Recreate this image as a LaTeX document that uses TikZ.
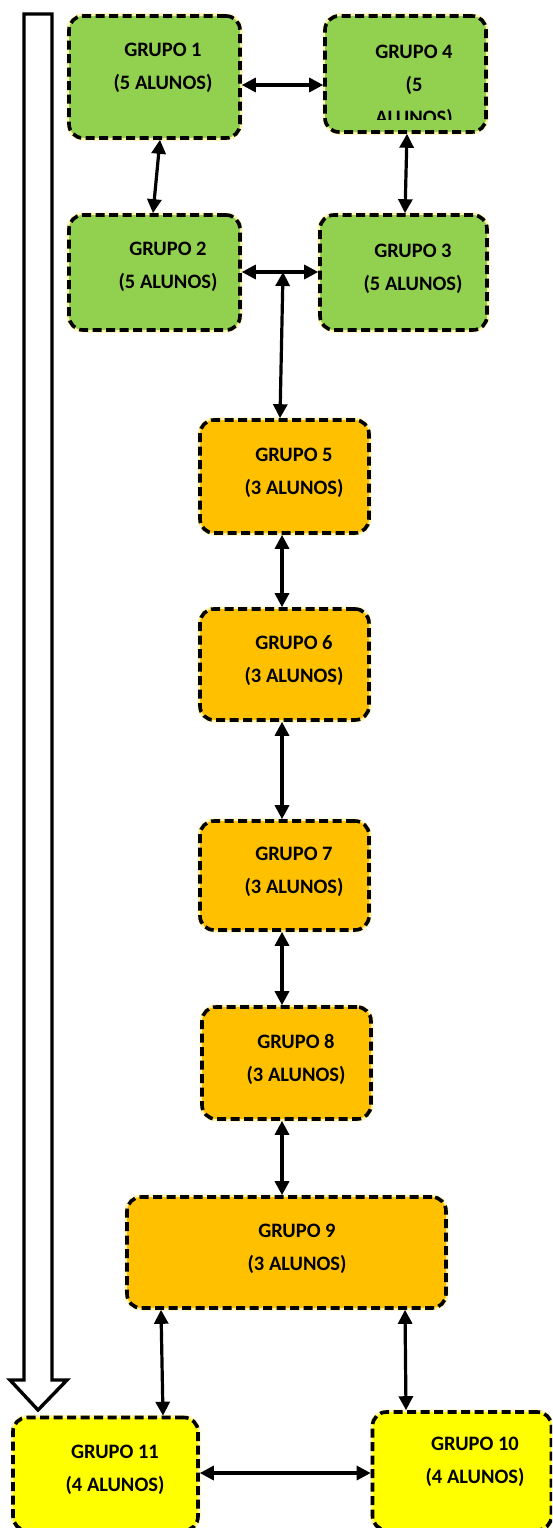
\documentclass[tikz,border=0pt]{standalone}
\usepackage{fontspec}
\setmainfont{Carlito}
\usetikzlibrary{arrows.meta,calc}
\definecolor{gr}{HTML}{92D050}
\definecolor{og}{HTML}{FFC000}
\definecolor{yl}{HTML}{FFFF00}
\definecolor{halo}{HTML}{FFF4B0}
\tikzset{
  box/.style={draw=black, line width=3.6pt, dash pattern=on 9pt off 4.5pt,
    rounded corners=14pt, inner sep=0pt, outer sep=1.8pt,
    preaction={draw=halo, line width=5pt, solid}},
  lbl/.style={font=\bfseries\fontsize{20.5}{33}\selectfont, align=center, inner sep=0pt},
  conn/.style={line width=3.2pt, {Triangle[length=14pt,width=14pt]}-{Triangle[length=14pt,width=14pt]}},
  bigarrow/.style={draw=black, line width=3.4pt, fill=white, line join=miter}
}
\begin{document}
\begin{tikzpicture}[x=1pt,y=-1pt]
\useasboundingbox (0,0) rectangle (552,1528);
\clip (0,0) rectangle (552,1528);
% big hollow arrow
\draw[bigarrow] (24,14) -- (52,14) -- (52,1380) -- (67,1380) -- (38,1410) -- (10,1380) -- (24,1380) -- cycle;
% boxes
\node[box, fill=gr, minimum width=171pt, minimum height=122pt] (g1) at (154.5,77) {};
\node[box, fill=gr, minimum width=161pt, minimum height=116pt] (g4) at (405.5,74) {};
\node[box, fill=gr, minimum width=171pt, minimum height=115pt] (g2) at (154.5,272.5) {};
\node[box, fill=gr, minimum width=167pt, minimum height=115pt] (g3) at (403.5,272.5) {};
\node[box, fill=og, minimum width=169pt, minimum height=113pt] (g5) at (284.5,476.5) {};
\node[box, fill=og, minimum width=169pt, minimum height=111pt] (g6) at (284.5,664.5) {};
\node[box, fill=og, minimum width=169pt, minimum height=109pt] (g7) at (284.5,875.5) {};
\node[box, fill=og, minimum width=169pt, minimum height=112pt] (g8) at (286.5,1063) {};
\node[box, fill=og, minimum width=319pt, minimum height=111pt] (g9) at (286.5,1252.5) {};
\node[box, fill=yl, minimum width=185pt, minimum height=113pt] (g11) at (105.5,1474) {};
\node[box, fill=yl, minimum width=179pt, minimum height=118pt] (g10) at (462,1471) {};
% labels
\node[lbl] (t1) at (163,68) {GRUPO 1\\(5 ALUNOS)};
\begin{scope}
\clip (330,20) rectangle (480,119);
\node[lbl] (t4) at (414,86) {GRUPO 4\\(5\\ALUNOS)};
\end{scope}
\node[lbl] (t2) at (168,266.5) {GRUPO 2\\(5 ALUNOS)};
\node[lbl] (t3) at (413,268.5) {GRUPO 3\\(5 ALUNOS)};
\node[lbl] (t5) at (294,472.5) {GRUPO 5\\(3 ALUNOS)};
\node[lbl] (t6) at (294,661) {GRUPO 6\\(3 ALUNOS)};
\node[lbl] (t7) at (294,871.5) {GRUPO 7\\(3 ALUNOS)};
\node[lbl] (t8) at (296,1059) {GRUPO 8\\(3 ALUNOS)};
\node[lbl] (t9) at (297,1248.5) {GRUPO 9\\(3 ALUNOS)};
\node[lbl] (t11) at (115,1469.5) {GRUPO 11\\(4 ALUNOS)};
\node[lbl] (t10) at (475,1462) {GRUPO 10\\(4 ALUNOS)};
% connectors
\draw[conn] (g1.east |- 0,85) -- (g4.west |- 0,85);
\draw[conn] (g1.south -| 160,0) -- (g2.north -| 153,0);
\draw[conn] (g4.south -| 407,0) -- (g3.north -| 405,0);
\draw[conn] (g2.east |- 0,272) -- (g3.west |- 0,272);
\coordinate (m) at (283,272);
\draw[conn] (m) -- (g5.north -| 280,0);
\draw[conn] (g5.south -| 282,0) -- (g6.north -| 282,0);
\draw[conn] (g6.south -| 282,0) -- (g7.north -| 282,0);
\draw[conn] (g7.south -| 282,0) -- (g8.north -| 282,0);
\draw[conn] (g8.south -| 282,0) -- (g9.north -| 282,0);
\draw[conn] (g9.south -| 161,0) -- (g11.north -| 163,0);
\draw[conn] (g9.south -| 405,0) -- (g10.north -| 406,0);
\draw[conn] (g11.east |- 0,1473) -- (g10.west |- 0,1473);
\end{tikzpicture}
\end{document}
